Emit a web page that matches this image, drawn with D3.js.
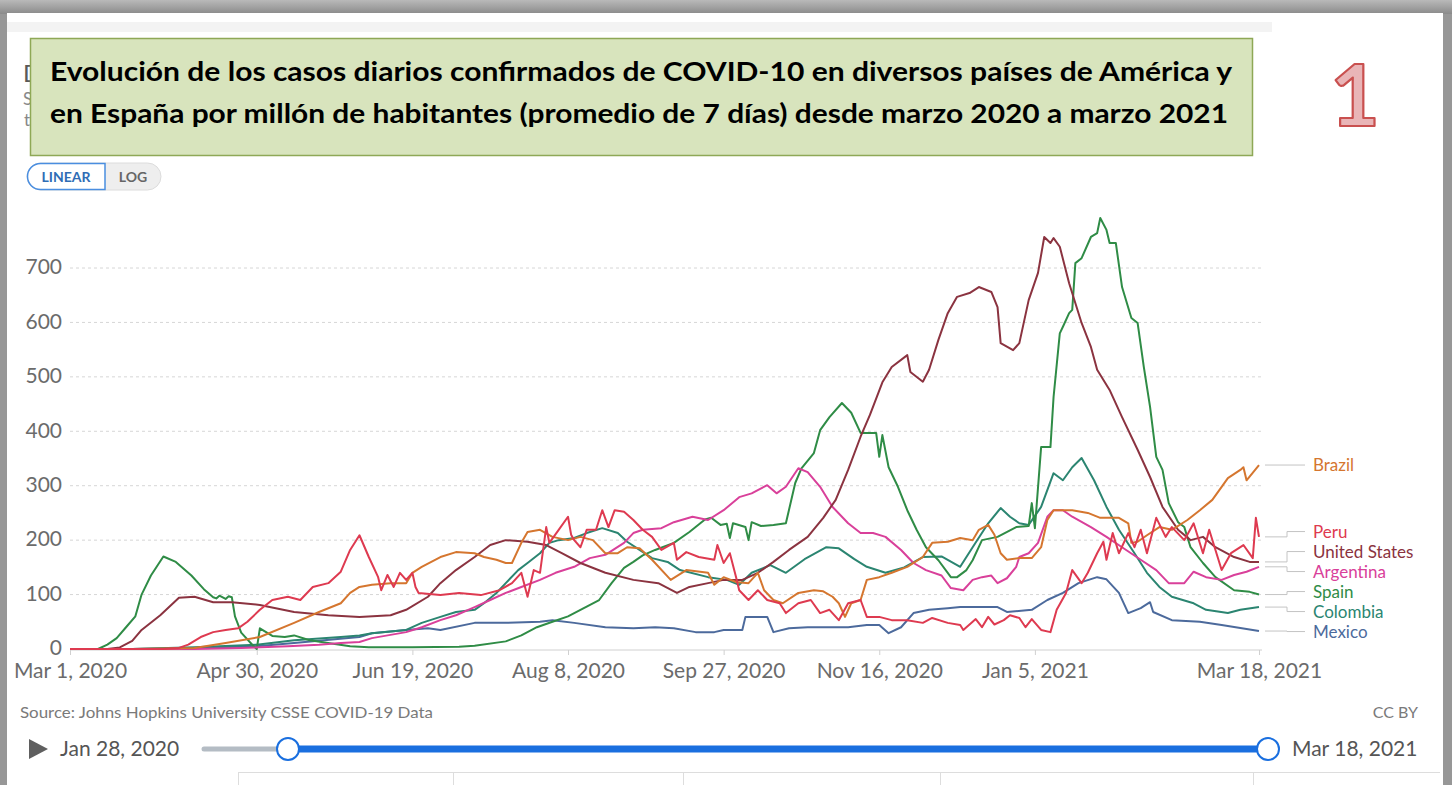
<!DOCTYPE html>
<html>
<head>
<meta charset="utf-8">
<style>
  html, body { margin: 0; padding: 0; background: #9b9b9b; }
  svg { display: block; }
  .owid { font-family: Lato, "Noto Sans", sans-serif; }
</style>
<title>Casos diarios COVID por millón</title>
</head>
<body>
<script src="https://cdn.jsdelivr.net/npm/d3@7"></script>
<script>
// ---- data: [days since Mar 1 2020, confirmed cases per million (7-day avg)] ----
var brazil = [[0,0],[20,0],[30,1],[40,2],[50,11],[61,22],[72,48],[80,68],[87,84],[90,103],[93,114],[97,118],[103,121],[108,121],[110,140],[113,151],[119,169],[124,178],[130,176],[133,169],[137,164],[140,158],[142,158],[145,195],[147,215],[151,219],[155,206],[160,200],[164,206],[168,200],[172,176],[176,176],[179,187],[183,185],[187,164],[193,127],[198,145],[205,140],[207,118],[210,132],[214,123],[218,121],[221,140],[223,108],[226,90],[229,84],[234,103],[239,108],[242,106],[245,96],[247,84],[249,59],[251,84],[254,90],[256,127],[260,132],[264,140],[269,151],[274,169],[277,195],[282,197],[286,204],[290,200],[292,219],[295,228],[297,210],[299,176],[301,164],[305,167],[309,167],[312,187],[314,237],[316,255],[322,255],[327,250],[331,241],[337,241],[340,231],[341,195],[343,197],[346,209],[350,224],[354,219],[359,237],[363,255],[367,274],[370,298],[372,314],[376,329],[377,334],[378,310],[382,338]]

var peru = [[0,0],[30,0],[35,2],[38,8],[42,22],[46,31],[50,35],[54,38],[57,50],[61,72],[65,90],[70,96],[74,90],[78,114],[83,121],[87,142],[90,182],[93,209],[96,169],[99,132],[100,108],[102,136],[104,114],[106,140],[108,127],[110,140],[111,114],[112,103],[119,99],[125,103],[132,99],[138,108],[142,121],[145,140],[147,96],[149,145],[151,140],[153,224],[154,195],[157,219],[160,243],[161,210],[162,200],[164,187],[166,219],[169,219],[171,255],[173,224],[175,255],[178,252],[181,237],[184,219],[187,206],[190,182],[194,195],[195,164],[198,178],[202,169],[207,164],[208,191],[210,158],[212,176],[214,132],[215,108],[218,90],[221,108],[224,90],[228,84],[230,66],[234,84],[238,90],[241,66],[244,72],[247,53],[250,84],[254,90],[256,59],[260,59],[264,53],[269,53],[274,48],[277,57],[282,48],[286,44],[287,35],[291,55],[293,40],[295,59],[297,45],[300,53],[302,62],[305,57],[307,40],[309,55],[312,35],[315,31],[317,72],[320,103],[322,145],[325,121],[327,140],[330,176],[332,197],[333,164],[335,213],[337,176],[340,213],[342,187],[344,219],[346,176],[349,241],[352,206],[354,224],[358,200],[361,231],[364,176],[366,219],[370,145],[373,176],[377,191],[380,167],[381,241],[382,206]]

var unitedStates = [[0,0],[12,0],[16,3],[20,15],[23,35],[29,62],[35,94],[40,96],[46,86],[52,86],[61,81],[72,68],[83,62],[93,59],[103,62],[108,72],[115,96],[119,121],[124,145],[130,169],[135,191],[140,200],[147,197],[153,191],[158,176],[164,158],[172,140],[181,127],[189,121],[195,103],[199,114],[205,121],[210,127],[216,127],[221,140],[226,160],[231,182],[237,206],[242,241],[246,274],[250,329],[254,390],[257,430],[261,490],[264,518],[269,540],[270,509],[274,491],[276,513],[279,568],[282,617],[285,647],[289,654],[292,665],[296,656],[298,628],[299,562],[303,549],[305,562],[308,641],[311,691],[313,757],[315,746],[316,755],[318,739],[321,672],[325,599],[328,555],[330,513],[334,476],[338,426],[343,366],[347,316],[351,261],[356,219],[360,200],[364,206],[368,187],[374,169],[379,160],[382,160]]

var argentina = [[0,0],[40,0],[55,2],[70,5],[80,8],[87,11],[93,13],[97,20],[108,31],[113,40],[119,53],[124,62],[130,77],[135,90],[140,103],[145,114],[151,127],[156,140],[162,151],[167,167],[172,173],[178,195],[181,213],[184,219],[190,222],[194,233],[200,243],[205,237],[210,255],[215,279],[219,286],[224,301],[227,286],[230,298],[234,332],[237,325],[241,298],[245,261],[250,231],[254,213],[258,213],[262,206],[267,182],[271,158],[275,145],[280,135],[283,112],[287,108],[290,127],[293,132],[296,135],[298,121],[301,130],[304,151],[305,169],[308,176],[311,195],[314,243],[316,255],[319,255],[322,243],[328,224],[333,206],[338,187],[344,164],[349,145],[353,121],[358,121],[361,142],[365,132],[370,127],[374,136],[378,142],[382,151]]

var spain = [[0,0],[9,0],[12,8],[15,20],[18,40],[21,60],[23,100],[26,135],[30,170],[34,160],[39,135],[43,110],[46,95],[47,93],[48,98],[50,92],[51,97],[52,95],[53,60],[55,30],[59,5],[60,0],[61,38],[65,24],[69,22],[72,25],[77,16],[84,10],[90,5],[96,3],[110,3],[125,4],[130,6],[140,14],[145,25],[150,40],[155,50],[160,60],[166,78],[170,90],[174,121],[178,149],[181,160],[184,172],[188,182],[194,195],[199,215],[204,238],[206,241],[209,228],[211,230],[212,204],[213,231],[217,224],[218,200],[219,233],[222,226],[226,228],[230,231],[233,305],[235,332],[239,360],[241,402],[244,426],[248,452],[251,434],[254,397],[259,397],[260,353],[261,393],[263,334],[266,298],[269,255],[272,219],[275,187],[279,163],[283,132],[285,132],[288,145],[290,163],[293,200],[298,206],[304,224],[308,226],[309,268],[310,222],[312,371],[315,371],[316,463],[318,580],[319,592],[321,617],[322,623],[323,709],[325,718],[328,757],[330,764],[331,792],[333,770],[334,746],[336,746],[338,665],[341,608],[343,599],[345,518],[347,445],[349,353],[351,329],[353,268],[356,233],[358,224],[360,187],[364,158],[368,132],[374,108],[379,105],[382,100]]

var colombia = [[0,0],[20,0],[40,3],[60,8],[72,16],[87,22],[93,25],[97,29],[108,35],[113,48],[119,59],[124,68],[130,72],[133,84],[137,103],[140,121],[144,145],[147,158],[151,176],[154,195],[157,200],[162,204],[166,213],[171,222],[176,213],[179,197],[183,182],[187,167],[192,160],[196,145],[205,132],[211,127],[215,118],[219,140],[225,154],[230,140],[236,165],[243,187],[247,185],[252,165],[256,151],[262,140],[268,150],[274,169],[280,170],[286,151],[290,187],[295,231],[299,259],[302,243],[305,231],[308,228],[312,261],[316,323],[319,310],[322,334],[325,351],[329,310],[333,261],[337,219],[342,176],[346,140],[350,114],[354,96],[361,84],[365,72],[372,66],[376,72],[382,77]]

var mexico = [[0,0],[20,0],[40,2],[60,5],[72,11],[93,22],[97,29],[108,35],[115,38],[119,35],[130,48],[140,48],[151,50],[155,53],[162,48],[172,40],[181,38],[188,40],[194,38],[201,31],[207,31],[210,35],[216,35],[217,59],[224,59],[226,31],[231,38],[237,40],[243,40],[250,40],[256,44],[260,44],[263,29],[267,40],[271,66],[276,72],[282,75],[286,77],[298,77],[301,68],[309,72],[314,90],[319,103],[324,121],[330,132],[333,128],[337,103],[340,66],[344,75],[347,86],[348,68],[354,53],[363,50],[370,44],[382,33]]

var countries = ["Brazil", "Peru", "United States", "Argentina", "Spain", "Colombia", "Mexico"]
var countrySeries = [brazil, peru, unitedStates, argentina, spain, colombia, mexico]
var yTicks = [0, 100, 200, 300, 400, 500, 600, 700]
var xTickDates = ["2020-03-01", "2020-04-30", "2020-06-19", "2020-08-08", "2020-09-27", "2020-11-16", "2021-01-05", "2021-03-18"]

var titleLines = [
    "Evolución de los casos diarios confirmados de COVID-10 en diversos países de América y",
    "en España por millón de habitantes (promedio de 7 días) desde marzo 2020 a marzo 2021"
]
var sourceText = "Source: Johns Hopkins University CSSE COVID-19 Data"

// colours per country (same order as countries)
var colors = ["#d5762f", "#de3a50", "#8b3340", "#d9409a", "#2f8c46", "#2b8571", "#4c6a9c"]

var W = 1452, H = 785
var startDate = new Date(2020, 2, 1)
var dayToDate = d => new Date(startDate.getTime() + d * 864e5)
var parse = d3.timeParse("%Y-%m-%d")
var fmt = d3.timeFormat("%b %-d, %Y")

var svg = d3.select("body").append("svg")
    .attr("width", W)
    .attr("height", H)

// screenshot frame
var defs = svg.append("defs")
var grad = defs.append("linearGradient").attr("id", "topgrad")
    .attr("x1", 0).attr("y1", 0).attr("x2", 0).attr("y2", 1)
grad.append("stop").attr("offset", "0%").attr("stop-color", "#b9b9b9")
grad.append("stop").attr("offset", "100%").attr("stop-color", "#8a8a8a")

svg.append("rect").attr("width", W).attr("height", H).attr("fill", "#979797")
svg.append("rect").attr("width", W).attr("height", 14).attr("fill", "url(#topgrad)")
svg.append("rect").attr("x", 7).attr("y", 13).attr("width", 1436).attr("height", H - 13).attr("fill", "#fff")
svg.append("rect").attr("x", 7).attr("y", 22).attr("width", 1265).attr("height", 10).attr("fill", "#f3f3f3")

// peeking letters of the original title behind the box
var peek = svg.append("g").attr("class", "owid").attr("fill", "#5a5a5a")
peek.append("text").attr("x", 23).attr("y", 82).attr("font-size", 24).text("D")
peek.append("text").attr("x", 23).attr("y", 105).attr("font-size", 17).attr("fill", "#888").text("S")
peek.append("text").attr("x", 24).attr("y", 126).attr("font-size", 17).attr("fill", "#888").text("t")

// title box
svg.append("rect")
    .attr("x", 30.5).attr("y", 38.5).attr("width", 1222).attr("height", 117)
    .attr("fill", "#d8e4bd").attr("stroke", "#8ea856").attr("stroke-width", 1.5)
svg.selectAll("text.title")
    .data(titleLines)
    .enter().append("text")
    .attr("class", "title")
    .attr("x", 50)
    .attr("y", (d, i) => 81 + i * 42)
    .attr("font-family", "Lato, 'Open Sans', sans-serif")
    .attr("font-weight", "bold")
    .attr("font-size", 27)
    .attr("textLength", (d, i) => i === 0 ? 1182 : 1178)
    .attr("lengthAdjust", "spacingAndGlyphs")
    .attr("fill", "#000")
    .text(d => d)

// big "1"
svg.append("text")
    .attr("x", 1355).attr("y", 126)
    .attr("text-anchor", "middle")
    .attr("font-family", "Lato, 'Open Sans', sans-serif")
    .attr("font-weight", "bold")
    .attr("font-size", 86)
    .attr("fill", "#e9b5b7")
    .attr("stroke", "#c9504f")
    .attr("stroke-width", 2.2)
    .attr("stroke-linejoin", "round")
    .text("1")

// LINEAR / LOG toggle
var tog = svg.append("g").attr("class", "owid")
tog.append("rect").attr("x", 27).attr("y", 163).attr("width", 134).attr("height", 27).attr("rx", 13.5)
    .attr("fill", "#eeeeee").attr("stroke", "#dcdcdc")
tog.append("path")
    .attr("d", "M105,163.5 H40.5 A13,13 0 0 0 40.5,189.5 H105 Z")
    .attr("fill", "#fff").attr("stroke", "#4a8ee0").attr("stroke-width", 1.5)
tog.append("text").attr("x", 66).attr("y", 182).attr("text-anchor", "middle")
    .attr("font-size", 14).attr("font-weight", "bold").attr("fill", "#2f6db5").text("LINEAR")
tog.append("text").attr("x", 133).attr("y", 182).attr("text-anchor", "middle")
    .attr("font-size", 14).attr("font-weight", "bold").attr("fill", "#666").text("LOG")

// scales
var x = d3.scaleTime()
    .domain([startDate, parse("2021-03-18")])
    .range([70, 1259])
var y = d3.scaleLinear()
    .domain([0, 700])
    .range([649, 268])

var chart = svg.append("g").attr("class", "owid")

// gridlines + y labels
chart.selectAll("line.grid")
    .data(yTicks.filter(d => d > 0))
    .enter().append("line")
    .attr("class", "grid")
    .attr("x1", 70).attr("x2", 1262)
    .attr("y1", d => y(d)).attr("y2", d => y(d))
    .attr("stroke", "#d6d6d6")
    .attr("stroke-dasharray", "3,3")
chart.selectAll("text.ylab")
    .data(yTicks)
    .enter().append("text")
    .attr("class", "ylab")
    .attr("x", 62)
    .attr("y", d => y(d) - 1)
    .attr("dy", "0.35em")
    .attr("text-anchor", "end")
    .attr("font-size", 21)
    .attr("fill", "#6b6b6b")
    .text(d => d)

// x axis
var xAxis = d3.axisBottom(x)
    .tickValues(xTickDates.map(parse))
    .tickFormat(fmt)
    .tickSize(5)
    .tickPadding(8)
var gx = chart.append("g")
    .attr("transform", "translate(0,650)")
    .call(xAxis)
gx.select(".domain").attr("stroke", "#d0d0d0").attr("d", "M70,0H1262")
gx.selectAll(".tick line").attr("stroke", "#d0d0d0")
gx.selectAll(".tick text")
    .attr("font-family", "Lato, 'Noto Sans', sans-serif")
    .attr("font-size", 21)
    .attr("fill", "#6b6b6b")

// lines
var line = d3.line()
    .x(d => x(dayToDate(d[0])))
    .y(d => y(d[1]))

var drawOrder = [6, 5, 4, 3, 2, 0, 1]
chart.selectAll("path.series")
    .data(drawOrder)
    .enter().append("path")
    .attr("class", "series")
    .attr("d", i => line(countrySeries[i]))
    .attr("fill", "none")
    .attr("stroke", i => colors[i])
    .attr("stroke-width", 2)
    .attr("stroke-linejoin", "round")

// end labels with simple collision avoidance
var labels = countries.map((name, i) => {
    var last = countrySeries[i][countrySeries[i].length - 1]
    return {name: name, color: colors[i], yEnd: y(last[1]), y: y(last[1])}
}).sort((a, b) => a.yEnd - b.yEnd)

var gap = 20
var groups = labels.map(l => ({items: [l], mean: l.yEnd}))
var merged = true
while (merged) {
    merged = false
    for (var i = 1; i < groups.length; i++) {
        var a = groups[i - 1], b = groups[i]
        var aBottom = a.mean + (a.items.length - 1) * gap / 2
        var bTop = b.mean - (b.items.length - 1) * gap / 2
        if (bTop - aBottom < gap) {
            var items = a.items.concat(b.items)
            groups.splice(i - 1, 2, {items: items, mean: d3.mean(items, d => d.yEnd)})
            merged = true
            break
        }
    }
}
groups.forEach(g => {
    var shift = g.items.length > 1 ? -1.5 : 0
    g.items.forEach((l, k) => { l.y = g.mean + shift + (k - (g.items.length - 1) / 2) * gap })
})

chart.selectAll("path.connector")
    .data(labels)
    .enter().append("path")
    .attr("class", "connector")
    .attr("d", d => `M1265,${d.yEnd}H1287V${d.y}H1305`)
    .attr("fill", "none")
    .attr("stroke", "#c4c4c4")
    .attr("stroke-width", 1)
chart.selectAll("text.endlabel")
    .data(labels)
    .enter().append("text")
    .attr("class", "endlabel")
    .attr("x", 1313)
    .attr("y", d => d.y)
    .attr("dy", "0.35em")
    .attr("font-size", 17)
    .attr("fill", d => d.color)
    .text(d => d.name)

// source + licence
chart.append("text").attr("x", 20).attr("y", 718)
    .attr("font-size", 16).attr("fill", "#7a7a7a")
    .attr("textLength", 413).attr("lengthAdjust", "spacingAndGlyphs")
    .text(sourceText)
chart.append("text").attr("x", 1418).attr("y", 718).attr("text-anchor", "end")
    .attr("font-size", 16).attr("fill", "#7a7a7a").text("CC BY")

// timeline slider
var slider = svg.append("g").attr("class", "owid")
slider.append("path").attr("d", "M29,739L48,749L29,759Z").attr("fill", "#5f5f5f")
slider.append("text").attr("x", 60).attr("y", 749).attr("dy", "0.35em")
    .attr("font-size", 21).attr("fill", "#555").text("Jan 28, 2020")
slider.append("line").attr("x1", 204).attr("x2", 288).attr("y1", 749).attr("y2", 749)
    .attr("stroke", "#b4bcc4").attr("stroke-width", 5).attr("stroke-linecap", "round")
slider.append("line").attr("x1", 288).attr("x2", 1268).attr("y1", 749).attr("y2", 749)
    .attr("stroke", "#1a6fdf").attr("stroke-width", 7)
slider.selectAll("circle")
    .data([288, 1268])
    .enter().append("circle")
    .attr("cx", d => d).attr("cy", 749).attr("r", 11)
    .attr("fill", "#fff").attr("stroke", "#1a6fdf").attr("stroke-width", 2)
slider.append("text").attr("x", 1292).attr("y", 749).attr("dy", "0.35em")
    .attr("font-size", 21).attr("fill", "#555").text("Mar 18, 2021")

// tab bar edge at the bottom
svg.append("line").attr("x1", 238).attr("x2", 1440).attr("y1", 772.5).attr("y2", 772.5)
    .attr("stroke", "#dddddd")
svg.selectAll("line.tabsep")
    .data([238, 453, 683, 940, 1253])
    .enter().append("line")
    .attr("class", "tabsep")
    .attr("x1", d => d + 0.5).attr("x2", d => d + 0.5)
    .attr("y1", 772).attr("y2", H)
    .attr("stroke", "#dddddd")
</script>
</body>
</html>
